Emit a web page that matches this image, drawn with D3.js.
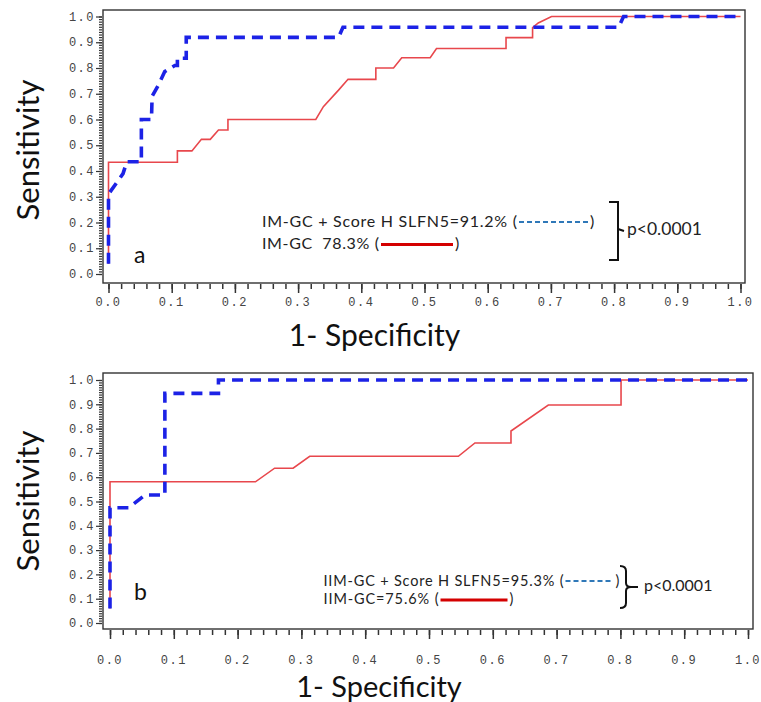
<!DOCTYPE html>
<meta charset="utf-8">
<style>body{margin:0;background:#fff}</style>
<svg id="chart" width="761" height="702"></svg>
<script src="https://d3js.org/d3.v7.min.js"></script>
<script>

// axis ticks (same on both axes, both panels)
var xTicks = [0, 0.1, 0.2, 0.3, 0.4, 0.5, 0.6, 0.7, 0.8, 0.9, 1.0];
var yTicks = [0, 0.1, 0.2, 0.3, 0.4, 0.5, 0.6, 0.7, 0.8, 0.9, 1.0];

// panel a: IM-GC + Score H SLFN5 (dashed) and IM-GC alone (solid)
var aComboFpr = [0, 0, 0.023, 0.029, 0.052, 0.052, 0.068, 0.069, 0.079, 0.089, 0.105, 0.109, 0.109, 0.123, 0.123, 0.364, 0.371, 0.807, 0.815, 1.0];
var aComboTpr = [0.04, 0.31, 0.39, 0.436, 0.436, 0.60, 0.60, 0.69, 0.734, 0.786, 0.81, 0.81, 0.838, 0.838, 0.919, 0.919, 0.958, 0.958, 1.0, 1.0];
var aBaseFpr = [0, 0, 0.109, 0.109, 0.132, 0.147, 0.161, 0.174, 0.189, 0.189, 0.328, 0.34, 0.364, 0.379, 0.423, 0.423, 0.451, 0.464, 0.509, 0.519, 0.629, 0.629, 0.671, 0.671, 0.68, 0.701, 1.0];
var aBaseTpr = [0.04, 0.434, 0.434, 0.478, 0.478, 0.523, 0.523, 0.559, 0.559, 0.60, 0.60, 0.65, 0.714, 0.756, 0.756, 0.80, 0.80, 0.84, 0.84, 0.876, 0.876, 0.918, 0.918, 0.957, 0.975, 1.0, 1.0];

// panel b: IIM-GC + Score H SLFN5 (dashed) and IIM-GC alone (solid)
var bComboFpr = [0, 0, 0.029, 0.055, 0.086, 0.086, 0.17, 0.17, 1.0];
var bComboTpr = [0.06, 0.474, 0.474, 0.527, 0.527, 0.945, 0.945, 1.0, 1.0];
var bBaseFpr = [0, 0, 0.228, 0.258, 0.287, 0.313, 0.546, 0.572, 0.6285, 0.6285, 0.687, 0.801, 0.801, 1.0];
var bBaseTpr = [0.06, 0.581, 0.581, 0.637, 0.637, 0.686, 0.686, 0.741, 0.741, 0.79, 0.897, 0.897, 1.0, 1.0];

var aLegend = ["IM-GC + Score H SLFN5=91.2% (", "IM-GC  78.3% ("];
var bLegend = ["IIM-GC + Score H SLFN5=95.3% (", "IIM-GC=75.6% ("];
var pText = "p<0.0001";
var panelTags = ["a", "b"];
var xTitle = "1- Specificity", yTitle = "Sensitivity";

var svg = d3.select("#chart");
svg.append("rect").attr("width", 761).attr("height", 702).attr("fill", "#fff");

var zip = function(xs, ys) { return xs.map(function(v, i) { return [v, ys[i]]; }); };

var panels = [
  { tag: panelTags[0], l: 103, t: 10, r: 745, b: 283, xr: [108.5, 740.5], yr: [274, 16.5],
    combo: zip(aComboFpr, aComboTpr), base: zip(aBaseFpr, aBaseTpr),
    legend: aLegend, legX: 262, legY: [227, 248.5], legW: [255, 117], legFont: 16,
    lineLen: [69, 72], bracket: "M609,202 H618 V260 H609 M618,229 L624,231",
    pX: 627, pY: 235, tagY: 263, yTitleY: 150, xTitleY: 346, xLabY: 306, xTitleSize: 30 },
  { tag: panelTags[1], l: 103, t: 373, r: 753, b: 629, xr: [110, 748], yr: [623, 380],
    combo: zip(bComboFpr, bComboTpr), base: zip(bBaseFpr, bBaseTpr),
    legend: bLegend, legX: 323.5, legY: [586, 604], legW: [240, 115], legFont: 14.5,
    lineLen: [48, 67], bracket: "M620,566 Q626,566 626,571 V583 Q626,587 631,587 Q626,587 626,591 V603 Q626,608 620,608 M631,587 H638",
    pX: 644, pY: 591, tagY: 600, yTitleY: 501, xTitleY: 697, xLabY: 664, xTitleSize: 29 }
];

panels.forEach(function(p) {
  var g = svg.append("g");
  var x = d3.scaleLinear().domain([0, 1]).range(p.xr);
  var y = d3.scaleLinear().domain([0, 1]).range(p.yr);

  g.append("rect")
      .attr("x", p.l).attr("y", p.t)
      .attr("width", p.r - p.l).attr("height", p.b - p.t)
      .attr("fill", "none").attr("stroke", "#333").attr("stroke-width", 1.4);

  // x axis: minor + major ticks
  var gx = g.append("g").attr("transform", "translate(0," + (p.b + 1) + ")");
  gx.append("g").call(d3.axisBottom(x).tickValues(d3.range(0, 51).map(function(i) { return i / 50; })).tickSize(5).tickFormat(""));
  gx.append("g").call(d3.axisBottom(x).tickValues(xTicks).tickSize(9).tickFormat(""));
  gx.selectAll(".domain").remove();
  gx.selectAll("line").attr("stroke", "#333").attr("stroke-width", 1.5);

  g.selectAll(".xlab").data(xTicks).enter().append("text")
      .attr("x", function(d) { return x(d); })
      .attr("y", p.xLabY)
      .attr("text-anchor", "middle")
      .style("font-family", "Liberation Mono")
      .style("font-size", "12px")
      .style("letter-spacing", "1.5px")
      .attr("fill", "#444")
      .text(d3.format(".1f"));

  // y axis
  var gy = g.append("g").attr("transform", "translate(" + (p.l - 1) + ",0)");
  gy.append("g").call(d3.axisLeft(y).tickValues(d3.range(0, 101).map(function(i) { return i / 100; })).tickSize(3).tickFormat(""));
  gy.append("g").call(d3.axisLeft(y).tickValues(yTicks).tickSize(6).tickFormat(""));
  gy.selectAll(".domain").remove();
  gy.selectAll("line").attr("stroke", "#333").attr("stroke-width", 1.2);

  g.selectAll(".ylab").data(yTicks).enter().append("text")
      .attr("x", p.l - 8)
      .attr("y", function(d) { return y(d); })
      .attr("dy", "0.35em")
      .attr("text-anchor", "end")
      .style("font-family", "Liberation Mono")
      .style("font-size", "12px")
      .style("letter-spacing", "1.5px")
      .attr("fill", "#444")
      .text(d3.format(".1f"));

  // curves
  var line = d3.line().x(function(d) { return x(d[0]); }).y(function(d) { return y(d[1]); });

  g.append("path").datum(p.base)
      .attr("d", line)
      .attr("fill", "none").attr("stroke", "#e8474c").attr("stroke-width", 1.6);

  g.append("path").datum(p.combo)
      .attr("d", line)
      .attr("fill", "none").attr("stroke", "#1c22e6").attr("stroke-width", 3.6)
      .attr("stroke-dasharray", "11,7");

  // panel letter
  g.append("text")
      .attr("x", 134).attr("y", p.tagY)
      .style("font-family", "Lato").style("font-size", "23px")
      .attr("fill", "#111")
      .text(p.tag);

  // legend
  var styles = [
    { stroke: "#2f78b8", width: 2, dash: "5,3", dy: -5 },
    { stroke: "#d40000", width: 3.2, dash: null, dy: -4 }
  ];
  p.legend.forEach(function(txt, i) {
    g.append("text")
        .attr("x", p.legX).attr("y", p.legY[i])
        .style("font-family", "Lato").style("font-size", p.legFont + "px")
        .style("white-space", "pre")
        .attr("textLength", p.legW[i])
        .attr("fill", "#222")
        .text(txt);
    var x0 = p.legX + p.legW[i] + 2;
    g.append("line")
        .attr("x1", x0).attr("x2", x0 + p.lineLen[i])
        .attr("y1", p.legY[i] + styles[i].dy).attr("y2", p.legY[i] + styles[i].dy)
        .attr("stroke", styles[i].stroke).attr("stroke-width", styles[i].width)
        .attr("stroke-dasharray", styles[i].dash);
    g.append("text")
        .attr("x", x0 + p.lineLen[i] + 2).attr("y", p.legY[i])
        .style("font-family", "Lato").style("font-size", p.legFont + "px")
        .attr("fill", "#222")
        .text(")");
  });

  g.append("path").attr("d", p.bracket)
      .attr("fill", "none").attr("stroke", "#111").attr("stroke-width", 2);

  g.append("text")
      .attr("x", p.pX).attr("y", p.pY)
      .style("font-family", "Lato").style("font-size", (p.legFont + 1.5) + "px")
      .attr("fill", "#222")
      .text(pText);

  // axis titles
  g.append("text")
      .attr("x", (p.xr[0] + p.xr[1]) / 2 - 50).attr("y", p.xTitleY)
      .attr("text-anchor", "middle")
      .style("font-family", "Lato").style("font-size", p.xTitleSize + "px")
      .attr("fill", "#111")
      .text(xTitle);

  g.append("text")
      .attr("transform", "translate(39," + p.yTitleY + ") rotate(-90)")
      .attr("text-anchor", "middle")
      .style("font-family", "Lato").style("font-size", "31px")
      .attr("fill", "#111")
      .text(yTitle);
});

</script>
